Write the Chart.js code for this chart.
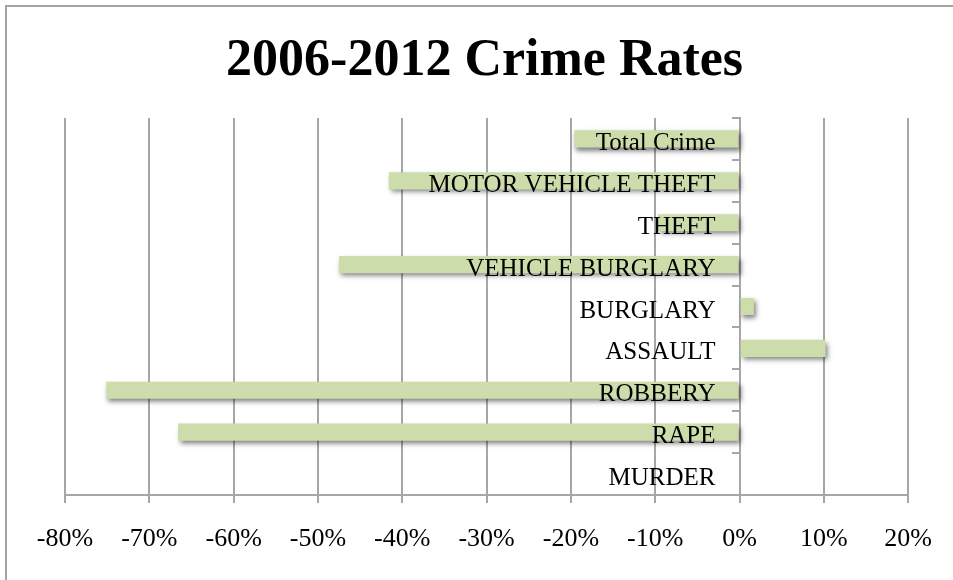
<!DOCTYPE html>
<html>
<head>
<meta charset="utf-8">
<script src="https://cdn.jsdelivr.net/npm/chart.js@4/dist/chart.umd.min.js"></script>
<style>
  html, body { margin: 0; padding: 0; background: #fff; }
  #wrap { position: relative; width: 953px; height: 580px; overflow: hidden; }
  #frame { position: absolute; left: 5px; top: 5px; width: 2000px; height: 2000px;
           border-left: 2px solid #a3a3a3; border-top: 2px solid #a3a3a3; }
  #chart { position: absolute; left: 0; top: 0; }
</style>
</head>
<body>
<div id="wrap">
  <div id="frame"></div>
  <canvas id="chart" width="953" height="580"></canvas>
</div>
<script>
// Change in crime rates, 2006 to 2012 (percent), listed top to bottom
const categories = [
  'Total Crime',
  'MOTOR VEHICLE THEFT',
  'THEFT',
  'VEHICLE BURGLARY',
  'BURGLARY',
  'ASSAULT',
  'ROBBERY',
  'RAPE',
  'MURDER'
];
const changePercent = [-19.6, -41.6, -9.7, -47.5, 1.7, 10.2, -75.1, -66.6, 0];
const axisMin = -80;
const axisMax = 20;
const axisStep = 10;

const chartTitle = '2006-2012 Crime Rates';
const serif = '"Liberation Serif", "Times New Roman", serif';
const gridGray = '#a6a6a6';

// soft drop shadow under the bars
const barShadow = {
  id: 'barShadow',
  beforeDatasetsDraw(chart) {
    const ctx = chart.ctx;
    ctx.save();
    ctx.shadowColor = 'rgba(0,0,0,0.5)';
    ctx.shadowBlur = 5;
    ctx.shadowOffsetX = 2;
    ctx.shadowOffsetY = 3;
  },
  afterDatasetsDraw(chart) {
    chart.ctx.restore();
  }
};

// category names sit on top of the bars, right-aligned next to the zero axis
const categoryLabels = {
  id: 'categoryLabels',
  afterDatasetsDraw(chart) {
    const ctx = chart.ctx;
    const xs = chart.scales.x;
    const ys = chart.scales.y;
    const xRight = xs.getPixelForValue(0) - 24;
    ctx.save();
    ctx.font = '25px ' + serif;
    ctx.fillStyle = '#000';
    ctx.textAlign = 'right';
    ctx.textBaseline = 'alphabetic';
    categories.forEach((name, i) => {
      ctx.fillText(name, xRight, ys.getPixelForTick(i) + 11);
    });
    ctx.restore();
  }
};

// title centred over the plot area
const plotTitle = {
  id: 'plotTitle',
  afterDraw(chart) {
    const ctx = chart.ctx;
    const a = chart.chartArea;
    ctx.save();
    ctx.font = 'bold 52px ' + serif;
    ctx.fillStyle = '#000';
    ctx.textAlign = 'center';
    ctx.textBaseline = 'alphabetic';
    ctx.fillText(chartTitle, (a.left + a.right) / 2 - 2, 75);
    ctx.restore();
  }
};

new Chart(document.getElementById('chart'), {
  type: 'bar',
  data: {
    labels: categories,
    datasets: [{
      data: changePercent,
      backgroundColor: '#cddcab',
      borderWidth: 0,
      barPercentage: 0.41,
      categoryPercentage: 1.0
    }]
  },
  plugins: [barShadow, categoryLabels, plotTitle],
  options: {
    indexAxis: 'y',
    responsive: false,
    animation: false,
    devicePixelRatio: 1,
    layout: { padding: { left: 65, right: 44, top: 118, bottom: 0 } },
    plugins: {
      legend: { display: false },
      title: { display: false },
      tooltip: { enabled: false }
    },
    scales: {
      x: {
        type: 'linear',
        position: 'bottom',
        min: axisMin,
        max: axisMax,
        afterFit(scale) { scale.height = 85; },
        ticks: {
          stepSize: axisStep,
          padding: 21,
          color: '#000',
          font: { family: serif, size: 26 },
          callback: v => Math.round(v) + '%'
        },
        grid: {
          color: gridGray,
          lineWidth: 2,
          tickLength: 8,
          drawTicks: true
        },
        border: { color: gridGray, width: 2 }
      },
      y: {
        position: { x: 0 },
        offset: true,
        ticks: { display: false },
        grid: {
          offset: true,
          drawOnChartArea: false,
          drawTicks: true,
          tickLength: 7,
          color: gridGray,
          lineWidth: 2
        },
        border: { color: gridGray, width: 2 }
      }
    }
  }
});
</script>
</body>
</html>
